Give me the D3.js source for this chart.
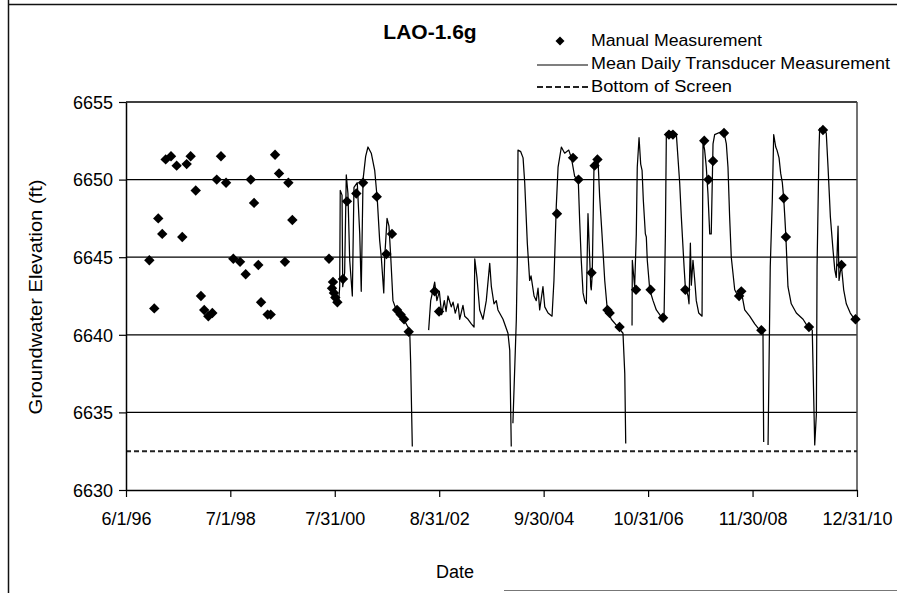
<!DOCTYPE html>
<html><head><meta charset="utf-8">
<script src="https://cdn.jsdelivr.net/npm/d3@7"></script>
<style>
body{margin:0;background:#fff}
text{font-family:"Liberation Sans",Arial,sans-serif;fill:#000}
</style>
</head><body>
<svg id="chart" width="897" height="593"></svg>
<script>
// ---------------- DATA ----------------
const chartTitle = "LAO-1.6g";
const xTickDates = ["1996-06-01","1998-07-01","2000-07-31","2002-08-31","2004-09-30","2006-10-31","2008-11-30","2010-12-31"];
const xTickLabels = ["6/1/96","7/1/98","7/31/00","8/31/02","9/30/04","10/31/06","11/30/08","12/31/10"];
const yTicks = [6630, 6635, 6640, 6645, 6650, 6655];
const bottomOfScreen = 6632.5;

const manualDates = [
"1996-11-18","1996-12-24","1997-01-22","1997-02-20","1997-03-17","1997-04-25","1997-06-05","1997-07-16",
"1997-08-17","1997-09-15","1997-10-22","1997-11-29","1997-12-23","1998-01-22","1998-02-20","1998-03-24",
"1998-04-24","1998-05-31","1998-07-23","1998-09-10","1998-10-21","1998-11-27","1998-12-21","1999-01-21",
"1999-02-10","1999-03-30","1999-04-21","1999-05-23","1999-06-21","1999-08-03","1999-08-28","1999-09-26",
"2000-06-19","2000-07-11","2000-07-18","2000-07-25","2000-08-04","2000-08-19","2000-09-29","2000-10-28",
"2001-01-04","2001-02-22","2001-06-02","2001-08-11","2001-09-21","2001-10-28","2001-11-23","2001-12-18",
"2002-01-21","2002-07-29","2002-08-30","2005-01-05","2005-05-02","2005-06-11","2005-09-14","2005-10-06",
"2005-10-27","2006-01-08","2006-01-24","2006-04-06","2006-08-04","2006-11-18","2007-02-17","2007-04-01",
"2007-04-30","2007-07-29","2007-12-14","2008-01-14","2008-02-16","2008-05-06","2008-08-24","2008-09-09",
"2009-02-02","2009-07-15","2009-07-31","2010-01-15","2010-04-27","2010-09-09","2010-12-20"];
const manualValues = [
6644.8,6641.7,6647.5,6646.5,6651.3,6651.5,6650.9,6646.3,
6651.0,6651.5,6649.3,6642.5,6641.6,6641.2,6641.4,6650.0,
6651.5,6649.8,6644.9,6644.7,6643.9,6650.0,6648.5,6644.5,
6642.1,6641.3,6641.3,6651.6,6650.4,6644.7,6649.8,6647.4,
6644.9,6643.0,6643.4,6642.7,6642.4,6642.1,6643.6,6648.6,
6649.1,6649.8,6648.9,6645.2,6646.5,6641.6,6641.3,6641.0,
6640.2,6642.8,6641.5,6647.8,6651.4,6650.0,6644.0,6650.9,
6651.3,6641.6,6641.4,6640.5,6642.9,6642.9,6641.1,6652.9,
6652.9,6642.9,6652.5,6650.0,6651.2,6653.0,6642.5,6642.8,
6640.3,6648.8,6646.3,6640.5,6653.2,6644.5,6641.0];

// null values mark gaps in the transducer record
const transducerDates = [
"2000-08-29","2000-09-05","2000-09-09","2000-09-22","2000-09-27","2000-10-11","2000-10-23","2000-11-04",
"2000-11-17","2000-12-06","2000-12-18","2001-01-11","2001-01-29","2001-02-09","2001-02-22","2001-03-13",
"2001-03-30","2001-04-23","2001-05-18","2001-06-06","2001-06-23","2001-07-05","2001-07-23","2001-07-30",
"2001-08-16","2001-08-30","2001-09-12","2001-09-28","2001-10-22","2001-11-28","2002-01-03","2002-01-28",
"2002-02-04","2002-02-16","2002-03-01",
"2002-06-15","2002-06-30","2002-07-29","2002-08-14","2002-09-01","2002-09-18","2002-10-07","2002-10-20",
"2002-11-03","2002-11-27","2002-12-10","2002-12-26","2003-01-15","2003-01-27","2003-02-20","2003-03-05",
"2003-03-29","2003-04-22","2003-05-12","2003-05-17","2003-06-02","2003-06-22","2003-07-16","2003-08-09",
"2003-09-03","2003-09-15","2003-10-04","2003-10-21","2003-11-02","2003-12-09","2004-01-14","2004-01-27",
"2004-02-07","2004-02-12",
"2004-02-19","2004-03-15","2004-03-22","2004-03-27","2004-04-16","2004-05-03","2004-05-15","2004-06-03",
"2004-06-20","2004-06-30","2004-07-22","2004-08-07","2004-08-20","2004-09-01","2004-09-25","2004-10-08",
"2004-11-01","2004-11-30","2004-12-14","2004-12-31","2005-01-13","2005-02-06","2005-03-02","2005-04-01",
"2005-04-20","2005-05-14","2005-06-09","2005-06-20","2005-07-01","2005-07-14","2005-07-26","2005-08-07",
"2005-08-19","2005-08-31","2005-09-08","2005-09-12","2005-09-19","2005-10-02","2005-10-19","2005-10-31",
"2005-11-12","2005-11-29","2005-12-19","2006-01-07","2006-02-05","2006-03-26","2006-05-01","2006-05-14",
"2006-05-21","2006-06-10",
"2006-07-06","2006-07-08","2006-07-25","2006-08-06","2006-08-13","2006-08-26","2006-09-07","2006-09-17",
"2006-09-26","2006-10-11","2006-10-18","2006-10-25","2006-11-12","2006-12-06","2006-12-30","2007-01-31",
"2007-02-24","2007-03-06","2007-03-13","2007-04-18","2007-05-25","2007-06-18","2007-06-30","2007-07-20",
"2007-07-29","2007-08-18","2007-08-25","2007-09-04","2007-09-11","2007-09-23","2007-10-06","2007-10-17",
"2007-11-04","2007-11-28","2007-12-05","2007-12-17","2007-12-29","2008-01-10","2008-01-23","2008-02-03",
"2008-02-16","2008-02-28","2008-04-19","2008-05-07","2008-05-23","2008-06-04","2008-06-16","2008-06-28",
"2008-07-10","2008-07-23","2008-08-16","2008-09-09","2008-10-04","2008-11-09","2008-12-16","2009-01-21",
"2009-02-14","2009-02-19","2009-03-05",
"2009-03-23","2009-03-30","2009-04-08","2009-04-23","2009-05-03","2009-05-18","2009-05-27","2009-06-11",
"2009-06-23","2009-07-05","2009-07-15","2009-07-23","2009-07-31","2009-08-06","2009-08-15","2009-09-08",
"2009-10-15","2009-12-03","2010-01-08","2010-01-15","2010-02-08","2010-02-26","2010-03-10","2010-03-15",
"2010-03-29","2010-04-03","2010-04-27","2010-05-21","2010-06-03","2010-06-20","2010-07-09","2010-07-22",
"2010-08-02","2010-08-15","2010-08-22","2010-09-08","2010-09-25","2010-10-14","2010-11-12","2010-12-14",
"2010-12-31"];
const transducerValues = [
6642.2,6643.1,6649.3,6649.0,6643.1,6644.0,6650.3,6649.1,
6644.8,6642.5,6649.5,6649.8,6646.5,6642.8,6650.0,6651.5,
6652.1,6651.7,6650.6,6648.7,6646.1,6645.0,6642.7,6645.0,
6647.5,6647.0,6645.0,6642.2,6641.6,6641.2,6640.7,6640.3,
6638.2,6632.8,null,
6640.3,6642.2,6643.4,6642.2,6642.8,6641.3,6642.2,6641.5,
6642.5,6641.8,6642.1,6641.4,6642.0,6641.0,6641.9,6641.2,
6641.0,6640.7,6640.5,6644.9,6643.7,6641.6,6641.0,6642.2,
6644.6,6643.1,6642.0,6642.2,6641.6,6641.0,6640.1,6639.0,
6632.8,null,
6634.3,6641.0,6644.8,6651.9,6651.8,6651.4,6649.8,6645.9,
6643.5,6643.8,6642.5,6642.2,6643.0,6641.6,6643.1,6641.8,
6641.4,6641.2,6643.5,6648.3,6650.8,6652.1,6651.7,6651.9,
6651.4,6650.2,6650.0,6647.2,6644.8,6642.7,6642.2,6642.0,
6647.8,6645.0,6643.1,6642.9,6643.9,6651.0,6651.5,6651.3,
6648.9,6646.5,6643.5,6641.6,6641.0,6640.5,6640.1,6637.5,
6633.0,null,
6640.6,6644.8,6643.1,6646.5,6650.8,6652.7,6651.0,6650.6,
6648.7,6646.5,6646.3,6644.8,6642.9,6642.2,6641.6,6641.2,
6641.0,6646.5,6653.0,6653.1,6652.9,6649.8,6647.6,6644.4,
6643.1,6642.5,6642.0,6645.9,6643.2,6644.8,6643.5,6642.2,
6641.4,6641.2,6652.5,6651.9,6650.8,6649.1,6646.5,6646.5,
6652.3,6652.9,6653.1,6653.0,6652.3,6650.8,6647.6,6645.0,
6644.0,6642.9,6642.5,6642.8,6641.6,6641.2,6640.7,6640.3,
6640.1,6633.1,null,
6632.9,6638.0,6644.4,6648.7,6652.9,6652.1,6651.9,6651.4,
6650.4,6649.8,6648.8,6647.6,6646.3,6645.0,6643.1,6642.0,
6641.4,6641.0,6640.5,6640.5,6640.3,6632.9,6634.9,6644.4,
6651.9,6653.3,6653.2,6653.0,6650.8,6647.6,6645.5,6644.2,
6643.7,6647.0,6643.5,6644.5,6642.9,6642.0,6641.4,6641.0,
6640.9];

const legendLabels = ["Manual Measurement","Mean Daily Transducer Measurement","Bottom of Screen"];

// ---------------- DRAW ----------------
const parse = d3.timeParse("%Y-%m-%d");
const svg = d3.select("#chart");
const W = 897, H = 593;
const plot = {left:126, right:857, top:102, bottom:490};

const x = d3.scaleTime().domain([parse("1996-06-01"), parse("2010-12-31")]).range([plot.left, plot.right]);
const y = d3.scaleLinear().domain([6630, 6655]).range([plot.bottom, plot.top]);

svg.append("rect").attr("width",W).attr("height",H).attr("fill","#fff");

// outer chart frame fragments
svg.append("line").attr("x1",8.5).attr("x2",8.5).attr("y1",0).attr("y2",H).attr("stroke","#111").attr("stroke-width",1.5);
svg.append("line").attr("x1",8).attr("x2",W).attr("y1",4.5).attr("y2",4.5).attr("stroke","#111").attr("stroke-width",1.5);
svg.append("line").attr("x1",504).attr("x2",W).attr("y1",590.5).attr("y2",590.5).attr("stroke","#777").attr("stroke-width",1.2);

// gridlines
svg.append("g").selectAll("line").data(yTicks.filter(v=>v>6630)).join("line")
  .attr("x1",plot.left).attr("x2",plot.right)
  .attr("y1",d=>y(d)).attr("y2",d=>y(d))
  .attr("stroke","#000").attr("stroke-width",1.3);
// right border
svg.append("line").attr("x1",plot.right).attr("x2",plot.right).attr("y1",plot.top).attr("y2",plot.bottom)
  .attr("stroke","#444").attr("stroke-width",1.5);

// bottom of screen dashed
svg.append("line").attr("x1",plot.left).attr("x2",plot.right)
  .attr("y1",y(bottomOfScreen)).attr("y2",y(bottomOfScreen))
  .attr("stroke","#222").attr("stroke-width",1.9).attr("stroke-dasharray","5,3");

// axes
const yAxis = d3.axisLeft(y).tickValues(yTicks).tickSize(7).tickSizeOuter(0).tickFormat(d3.format("d"));
const gy = svg.append("g").attr("transform",`translate(${plot.left},0)`).call(yAxis);
gy.select(".domain").attr("stroke","#000").attr("stroke-width",1.5);
gy.selectAll(".tick line").attr("stroke","#000").attr("stroke-width",1.2);
gy.selectAll(".tick text").attr("font-size",18).attr("x",-13).attr("dy","0.35em")
  .attr("font-family",'"Liberation Sans",Arial,sans-serif').attr("fill","#000");

const xAxis = d3.axisBottom(x).tickValues(xTickDates.map(parse)).tickSize(7).tickSizeOuter(0)
  .tickFormat((d,i)=>xTickLabels[i]);
const gx = svg.append("g").attr("transform",`translate(0,${plot.bottom})`).call(xAxis);
gx.select(".domain").attr("stroke","#000").attr("stroke-width",1.5);
gx.selectAll(".tick line").attr("stroke","#000").attr("stroke-width",1.2);
gx.selectAll(".tick text").attr("font-size",18).attr("y",22).attr("dy","0.71em")
  .attr("font-family",'"Liberation Sans",Arial,sans-serif').attr("fill","#000");

// transducer line
const tData = transducerDates.map((d,i)=>({date:parse(d), v:transducerValues[i]}));
const line = d3.line().defined(d=>d.v!=null).x(d=>x(d.date)).y(d=>y(d.v));
svg.append("path").datum(tData).attr("d",line).attr("fill","none")
  .attr("stroke","#000").attr("stroke-width",1.25).attr("stroke-linejoin","round");

// manual diamonds
const diamond = "M0,-5.2L5.2,0L0,5.2L-5.2,0Z";
const mData = manualDates.map((d,i)=>({date:parse(d), v:manualValues[i]}));
svg.append("g").selectAll("path").data(mData).join("path")
  .attr("d",diamond).attr("transform",d=>`translate(${x(d.date)},${y(d.v)})`).attr("fill","#000");

// titles
svg.append("text").attr("x",430).attr("y",39).attr("text-anchor","middle")
  .attr("font-size",21).attr("font-weight","bold").text(chartTitle);
svg.append("text").attr("transform","translate(42,297) rotate(-90)").attr("text-anchor","middle")
  .attr("font-size",19).attr("textLength",235).attr("lengthAdjust","spacingAndGlyphs")
  .text("Groundwater Elevation (ft)");
svg.append("text").attr("x",455).attr("y",578).attr("text-anchor","middle")
  .attr("font-size",18).text("Date");

// legend
const lg = svg.append("g");
lg.append("path").attr("d","M0,-4.5L4.5,0L0,4.5L-4.5,0Z").attr("transform","translate(560,41)").attr("fill","#000");
lg.append("line").attr("x1",537).attr("x2",588).attr("y1",65).attr("y2",65).attr("stroke","#000").attr("stroke-width",1.2);
lg.append("line").attr("x1",537).attr("x2",588).attr("y1",87).attr("y2",87).attr("stroke","#222").attr("stroke-width",2).attr("stroke-dasharray","6,3");
const lgY = [46, 69, 92];
const lgW = [171, 299, 141];
lg.selectAll("text").data(legendLabels).join("text")
  .attr("x",591).attr("y",(d,i)=>lgY[i]).attr("font-size",16)
  .attr("textLength",(d,i)=>lgW[i]).attr("lengthAdjust","spacingAndGlyphs").text(d=>d);
</script>
</body></html>
